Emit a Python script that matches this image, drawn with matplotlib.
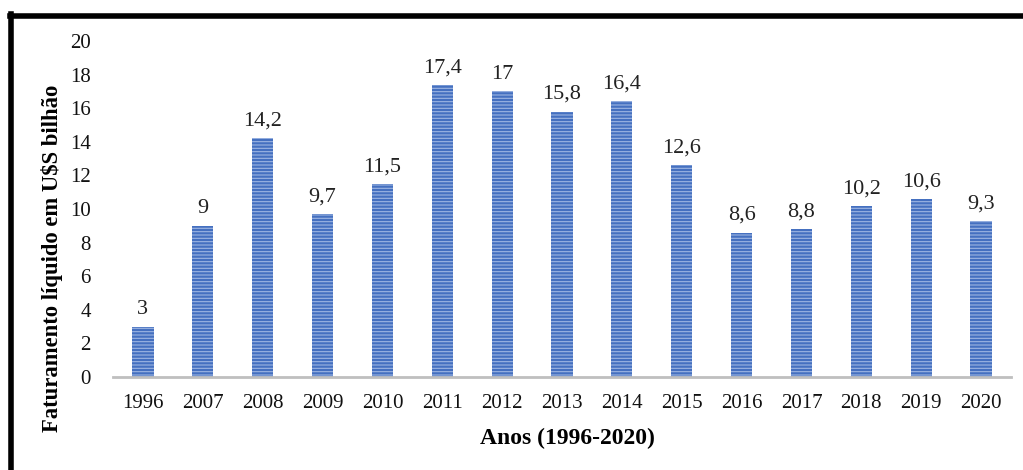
import matplotlib
matplotlib.use("Agg")
import matplotlib.pyplot as plt
from matplotlib.lines import Line2D

# data
anos = ['1996', '2007', '2008', '2009', '2010', '2011', '2012', '2013',
        '2014', '2015', '2016', '2017', '2018', '2019', '2020']
faturamento = [3, 9, 14.2, 9.7, 11.5, 17.4, 17, 15.8, 16.4, 12.6,
               8.6, 8.8, 10.2, 10.6, 9.3]
yticks = list(range(0, 21, 2))

plt.rcParams['font.family'] = ['Liberation Serif', 'DejaVu Serif']
plt.rcParams['hatch.linewidth'] = 0.8

fig = plt.figure(figsize=(10.23, 4.70), dpi=100)
ax = fig.add_axes([113/1023, 93/470, 898/1023, 336/470])

x = list(range(len(anos)))
ax.bar(x, faturamento, width=0.355, color='#4570C0', edgecolor='#9DB5E2',
       linewidth=0, hatch='-----', zorder=2)

for xi, v in zip(x, faturamento):
    txt = ('%g' % v).replace('.', ',')
    ax.text(xi, v + 0.45, txt, ha='center', va='bottom', fontsize=16, color='#222222')

ax.set_xlim(-0.5, len(anos) - 0.5)
ax.set_ylim(0, 20)
ax.set_xticks(x)
ax.set_xticklabels(anos)
ax.set_yticks(yticks)
ax.tick_params(axis='both', length=0, labelsize=15, colors='#111111')
ax.tick_params(axis='y', pad=16)
ax.tick_params(axis='x', pad=12)

for s in ['top', 'right', 'left']:
    ax.spines[s].set_visible(False)
ax.spines['bottom'].set_color('#BFBFBF')
ax.spines['bottom'].set_linewidth(2)

ax.set_xlabel('Anos (1996-2020)', fontsize=17, fontweight='bold')
ax.set_ylabel('Faturamento líquido em U$S bilhão', fontsize=16.3, fontweight='bold')
ax.xaxis.set_label_coords(0.506, -0.152)
ax.yaxis.set_label_coords(-0.0557, 0.354)

# black frame around the picture (top and left visible)
fig.add_artist(Line2D([10/1023, 1.0], [1 - 15.5/470, 1 - 15.5/470], color='black', linewidth=4,
                      transform=fig.transFigure))
fig.add_artist(Line2D([10.5/1023, 10.5/1023], [0, 1 - 13.5/470], color='black', linewidth=4,
                      transform=fig.transFigure))

fig.savefig('out.png', dpi=100)
